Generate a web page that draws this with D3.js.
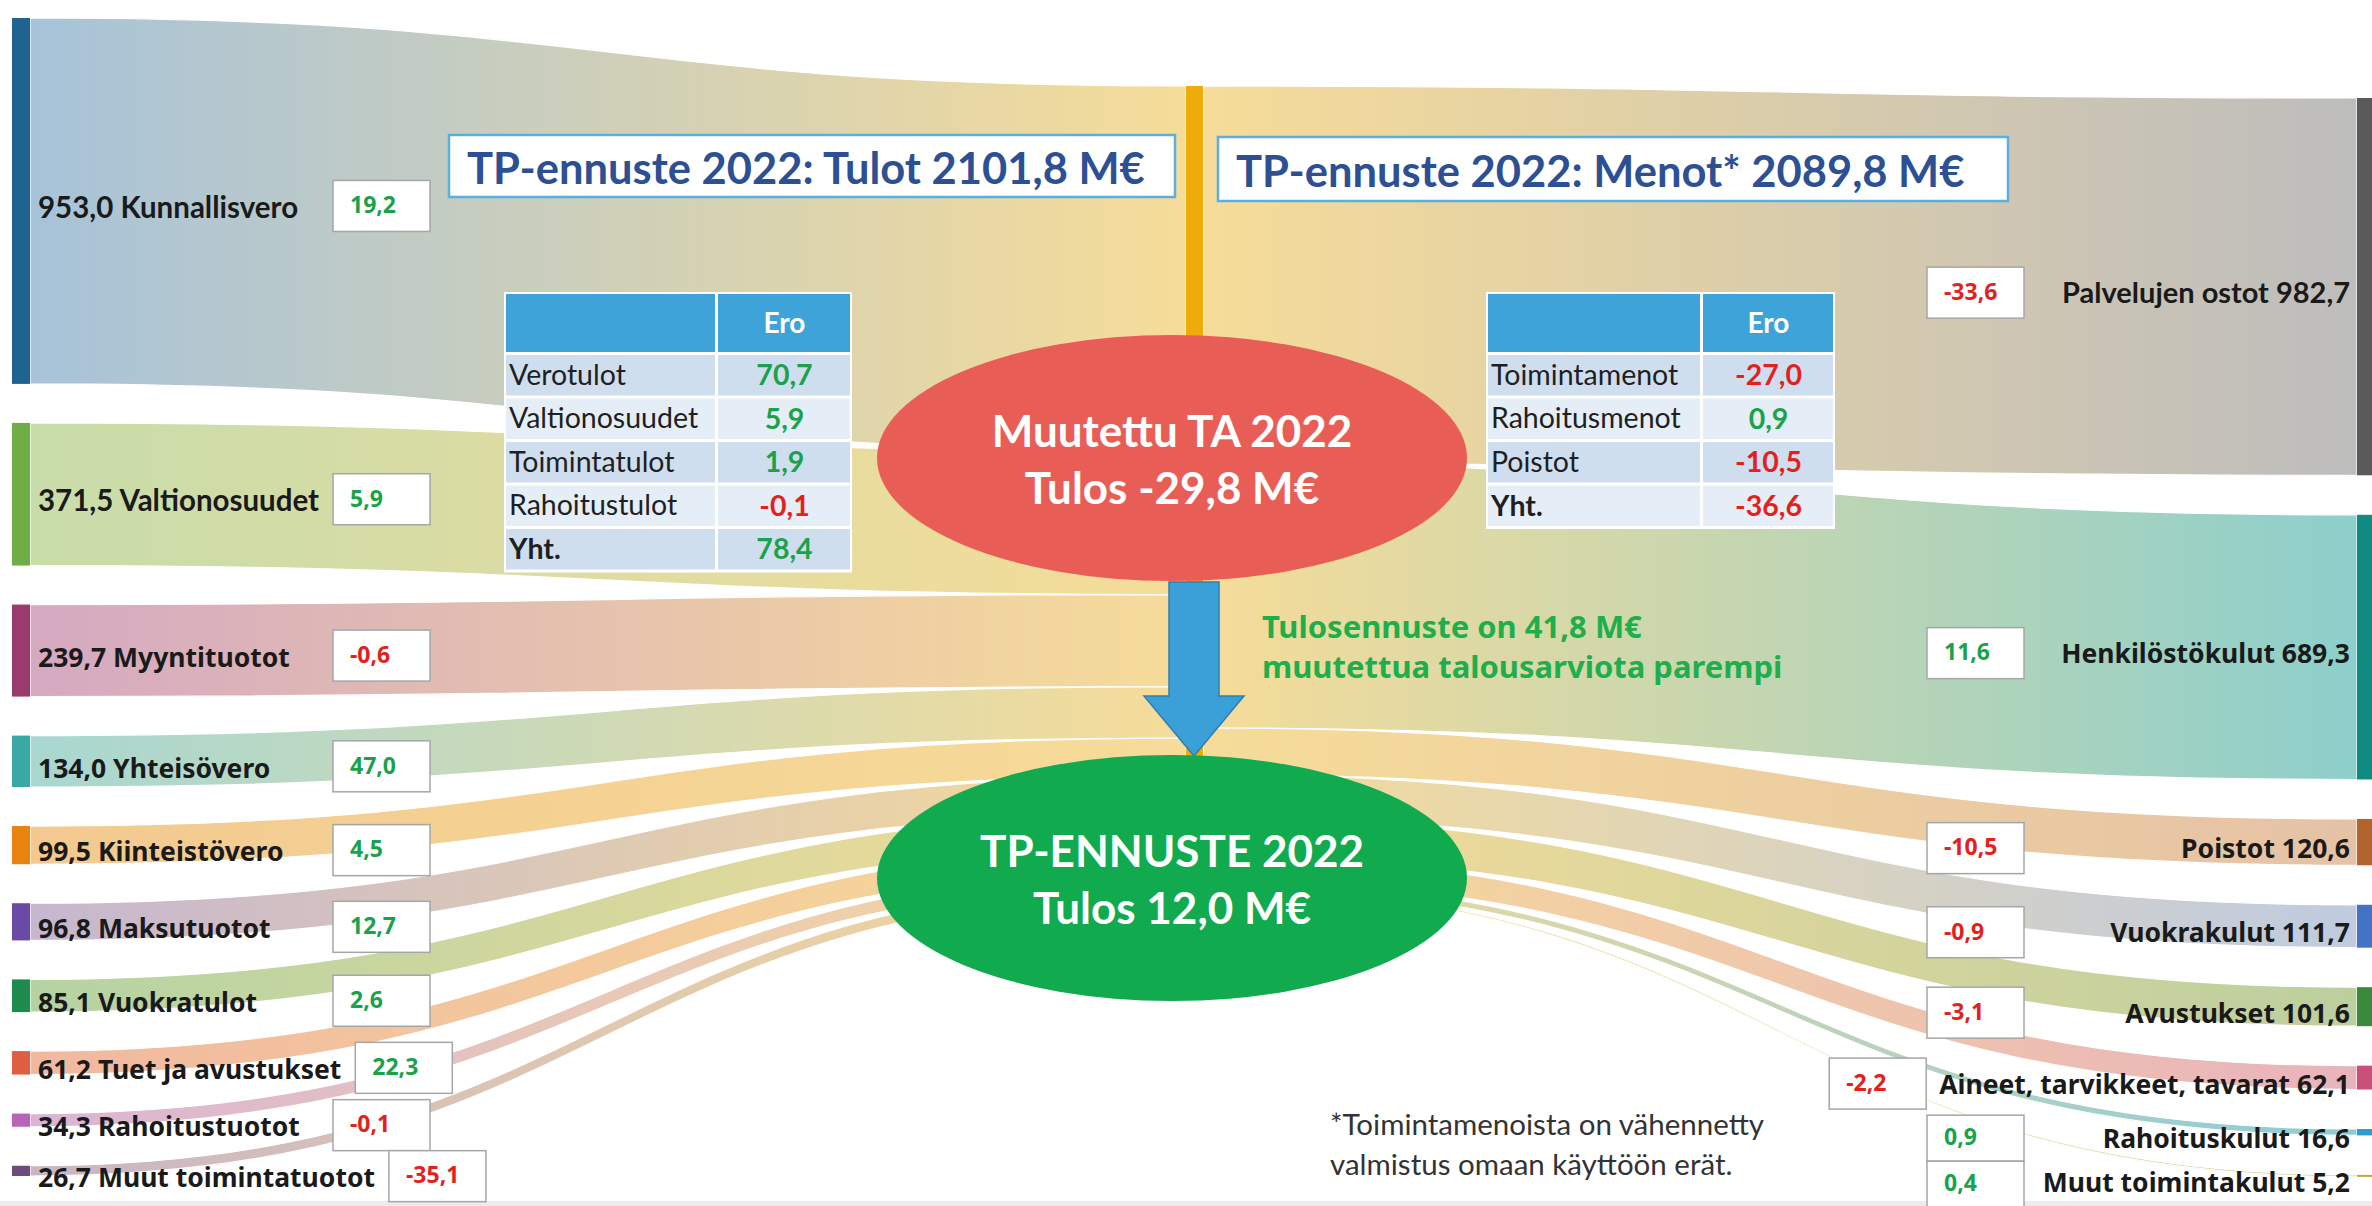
<!DOCTYPE html>
<html>
<head>
<meta charset="utf-8">
<script src="https://cdn.jsdelivr.net/npm/d3@7"></script>
<style>
  body { margin: 0; background: #fff; }
  svg { display: block; }
</style>
</head>
<body>
<svg id="chart"></svg>
<script>
// --- data ---
const incomeNames = ['Kunnallisvero', 'Valtionosuudet', 'Myyntituotot', 'Yhteisövero', 'Kiinteistövero',
  'Maksutuotot', 'Vuokratulot', 'Tuet ja avustukset', 'Rahoitustuotot', 'Muut toimintatuotot'];
const incomeValues = [953.0, 371.5, 239.7, 134.0, 99.5, 96.8, 85.1, 61.2, 34.3, 26.7];
const incomeDiffs = [19.2, 5.9, -0.6, 47.0, 4.5, 12.7, 2.6, 22.3, -0.1, -35.1];

const expenseNames = ['Palvelujen ostot', 'Henkilöstökulut', 'Poistot', 'Vuokrakulut', 'Avustukset',
  'Aineet, tarvikkeet, tavarat', 'Rahoituskulut', 'Muut toimintakulut'];
const expenseValues = [982.7, 689.3, 120.6, 111.7, 101.6, 62.1, 16.6, 5.2];
const expenseDiffs = [-33.6, 11.6, -10.5, -0.9, -3.1, -2.2, 0.9, 0.4];

const incomeTableRows = ['Verotulot', 'Valtionosuudet', 'Toimintatulot', 'Rahoitustulot', 'Yht.'];
const incomeTableDiffs = [70.7, 5.9, 1.9, -0.1, 78.4];
const expenseTableRows = ['Toimintamenot', 'Rahoitusmenot', 'Poistot', 'Yht.'];
const expenseTableDiffs = [-27.0, 0.9, -10.5, -36.6];

const budgetResult = -29.8;

// --- colours ---
const incomeColors = ['#1f6391', '#70ad47', '#9b3a6c', '#3aa9a6', '#e8830f', '#6a4aa5', '#1d8b4e', '#e05f42', '#b864b8', '#6d4c7c'];
const incomeLight = ['#a7c3d9', '#c8dcaa', '#d5a9c1', '#a8d7d1', '#f3c98f', '#c6b7cf', '#b4d3a2', '#f1b8a0', '#dab4d5', '#c9b5c5'];
const expenseColors = ['#5a5a5a', '#0e8c82', '#b3642e', '#4472c4', '#3b8a3b', '#c8507a', '#2e9bd1', '#b8aa44'];
const expenseLight = ['#bdbdbd', '#8dcfcb', '#e5c2a6', '#c0cbe0', '#bccf9f', '#e9b3bc', '#8dcbd8', '#d9d39a'];
const midLight = '#f6dc99';
const green = '#19a24a', red = '#e3211c';

const narrowFont = 'Lato, sans-serif';
const wideFont = '"Noto Sans", "Open Sans", sans-serif';

const width = 2372, height = 1206;
const loc = d3.formatLocale({ decimal: ',', thousands: ' ', grouping: [3], currency: ['', ''], minus: '-' });
const fmt = loc.format('.1f');

const totalIncome = d3.sum(incomeValues);
const totalExpense = d3.sum(expenseValues);
const forecastResult = totalIncome - totalExpense;
const improvement = forecastResult - budgetResult;

const svg = d3.select('#chart').attr('width', width).attr('height', height);
const defs = svg.append('defs');

// value -> pixel thickness
const thick = d3.scaleLinear().domain([0, totalIncome]).range([0, 807]);

const leftX0 = 12, leftX1 = 30, leftTop = 18, leftPad = 39;
const midX0 = 1186, midX1 = 1203, midTop = 86;
const rightX0 = 2357, rightX1 = 2372, rightTop = 98, rightPad = 39.5;

function stack(values, top, pad) {
  const before = [0, ...d3.cumsum(values)];
  return values.map((v, i) => ({ y0: top + thick(before[i]) + i * pad, y1: top + thick(before[i + 1]) + i * pad }));
}
const leftNodes = stack(incomeValues, leftTop, leftPad);
const midIn = stack(incomeValues, midTop, 0);
const rightNodes = stack(expenseValues, rightTop, rightPad);
const midOut = stack(expenseValues, midTop, 0);

function ribbon(x0, a0, b0, x1, a1, b1) {
  const xm = (x0 + x1) / 2;
  const p = d3.path();
  p.moveTo(x0, a0);
  p.bezierCurveTo(xm, a0, xm, a1, x1, a1);
  p.lineTo(x1, b1);
  p.bezierCurveTo(xm, b1, xm, b0, x0, b0);
  p.closePath();
  return p.toString();
}

function gradient(id, x1, x2, c1, c2) {
  const g = defs.append('linearGradient').attr('id', id)
    .attr('gradientUnits', 'userSpaceOnUse')
    .attr('x1', x1).attr('x2', x2).attr('y1', 0).attr('y2', 0);
  g.append('stop').attr('offset', '0%').attr('stop-color', c1);
  g.append('stop').attr('offset', '100%').attr('stop-color', c2);
}

// bottom rule of the slide
svg.append('rect').attr('x', 0).attr('y', 1201).attr('width', width).attr('height', 5).attr('fill', '#ececec');

// --- flows ---
const flows = svg.append('g').attr('class', 'flows');
incomeValues.forEach((v, i) => {
  gradient('gin' + i, leftX1, midX0, incomeLight[i], midLight);
  flows.append('path')
    .attr('d', ribbon(leftX1, leftNodes[i].y0, leftNodes[i].y1, midX0, midIn[i].y0, midIn[i].y1))
    .attr('fill', `url(#gin${i})`)
    .attr('stroke', '#fff').attr('stroke-width', 1.2);
});
expenseValues.forEach((v, i) => {
  gradient('gout' + i, midX1, rightX0, midLight, expenseLight[i]);
  flows.append('path')
    .attr('d', ribbon(midX1, midOut[i].y0, midOut[i].y1, rightX0, rightNodes[i].y0, rightNodes[i].y1))
    .attr('fill', `url(#gout${i})`)
    .attr('stroke', '#fff').attr('stroke-width', 1.2);
});

// --- nodes ---
svg.append('g').selectAll('rect').data(leftNodes).join('rect')
  .attr('x', leftX0).attr('width', leftX1 - leftX0)
  .attr('y', d => d.y0).attr('height', d => Math.max(2, d.y1 - d.y0))
  .attr('fill', (d, i) => incomeColors[i]);
svg.append('g').selectAll('rect').data(rightNodes).join('rect')
  .attr('x', rightX0).attr('width', rightX1 - rightX0)
  .attr('y', d => d.y0).attr('height', d => Math.max(2, d.y1 - d.y0))
  .attr('fill', (d, i) => expenseColors[i]);
svg.append('rect')
  .attr('x', midX0).attr('width', midX1 - midX0)
  .attr('y', midTop).attr('height', thick(totalIncome))
  .attr('fill', '#f0ab0b');

// --- labels & diff boxes ---
const boxW = 97, boxH = 51;
function diffColor(v) { return v < 0 ? red : green; }

const leftLabels = svg.append('g');
let prevBottom = 0;
incomeValues.forEach((v, i) => {
  const cy = (leftNodes[i].y0 + leftNodes[i].y1) / 2;
  const wide = i >= 2;
  const t = leftLabels.append('text')
    .attr('x', 38).attr('y', cy + 9)
    .attr('dominant-baseline', 'middle')
    .style('font-family', wide ? wideFont : narrowFont)
    .style('font-size', wide ? '26.5px' : '29.5px')
    .style('font-weight', 700).style('fill', '#1a1a1a')
    .text(`${fmt(v)} ${incomeNames[i]}`);
  const end = 38 + t.node().getComputedTextLength();
  const bx = Math.max(333, end + 14);
  const by = Math.max(cy + 5 - boxH / 2, prevBottom);
  prevBottom = by + boxH;
  leftLabels.append('rect').attr('x', bx).attr('y', by).attr('width', boxW).attr('height', boxH)
    .attr('fill', '#fff').attr('stroke', '#a6a6a6').attr('stroke-width', 1.5);
  leftLabels.append('text')
    .attr('x', bx + 17).attr('y', by + boxH / 2 + 1)
    .attr('dominant-baseline', 'middle')
    .style('font-family', wideFont).style('font-size', '23px').style('font-weight', 700)
    .style('fill', diffColor(incomeDiffs[i]))
    .text(fmt(incomeDiffs[i]));
});

const rightLabels = svg.append('g');
prevBottom = 0;
expenseValues.forEach((v, i) => {
  const cy = (rightNodes[i].y0 + rightNodes[i].y1) / 2;
  const wide = i >= 1;
  const t = rightLabels.append('text')
    .attr('x', 2350).attr('y', cy + 9)
    .attr('text-anchor', 'end').attr('dominant-baseline', 'middle')
    .style('font-family', wide ? wideFont : narrowFont)
    .style('font-size', wide ? '26.5px' : '29px')
    .style('font-weight', 700).style('fill', '#1a1a1a')
    .text(`${expenseNames[i]} ${fmt(v)}`);
  const start = 2350 - t.node().getComputedTextLength();
  const bx = Math.min(1927, start - 13 - boxW);
  const h = i >= 6 ? 46 : boxH;
  const by = Math.max(cy + 6 - h / 2, prevBottom);
  prevBottom = by + h;
  rightLabels.append('rect').attr('x', bx).attr('y', by).attr('width', boxW).attr('height', h)
    .attr('fill', '#fff').attr('stroke', '#a6a6a6').attr('stroke-width', 1.5);
  rightLabels.append('text')
    .attr('x', bx + 17).attr('y', by + h / 2 + 1)
    .attr('dominant-baseline', 'middle')
    .style('font-family', wideFont).style('font-size', '23px').style('font-weight', 700)
    .style('fill', diffColor(expenseDiffs[i]))
    .text(fmt(expenseDiffs[i]));
});

// --- title boxes ---
function titleBox(x, y, w, h, text) {
  svg.append('rect').attr('x', x).attr('y', y).attr('width', w).attr('height', h)
    .attr('fill', '#fff').attr('stroke', '#5aaee0').attr('stroke-width', 2.5);
  svg.append('text').attr('x', x + 18).attr('y', y + h / 2 + 7)
    .attr('dominant-baseline', 'middle')
    .style('font-family', narrowFont).style('font-size', '43.5px').style('font-weight', 700)
    .style('fill', '#2c5093')
    .text(text);
}
titleBox(449, 135, 726, 62, `TP-ennuste 2022: Tulot ${fmt(totalIncome)} M€`);
titleBox(1218, 137, 790, 64, `TP-ennuste 2022: Menot* ${fmt(totalExpense)} M€`);

// --- tables ---
function table(x, splitX, x2, rows, diffs) {
  const g = svg.append('g');
  const headTop = 292, headH = 60, rowTop = 355, rowH = 43.5;
  g.append('rect').attr('x', x).attr('y', headTop).attr('width', x2 - x).attr('height', rowTop - headTop + rows.length * rowH)
    .attr('fill', '#fff');
  g.append('rect').attr('x', x + 2).attr('y', headTop + 2).attr('width', splitX - x - 4).attr('height', headH - 2).attr('fill', '#3ea3d8');
  g.append('rect').attr('x', splitX + 1).attr('y', headTop + 2).attr('width', x2 - splitX - 3).attr('height', headH - 2).attr('fill', '#3ea3d8');
  g.append('text').attr('x', (splitX + x2) / 2).attr('y', headTop + headH / 2 + 4)
    .attr('text-anchor', 'middle').attr('dominant-baseline', 'middle')
    .style('font-family', narrowFont).style('font-size', '28px').style('font-weight', 700).style('fill', '#fff')
    .text('Ero');
  rows.forEach((r, i) => {
    const y = rowTop + i * rowH;
    const fill = i % 2 === 0 ? '#cfdeef' : '#e5edf7';
    g.append('rect').attr('x', x + 2).attr('y', y).attr('width', splitX - x - 4).attr('height', rowH - 3).attr('fill', fill);
    g.append('rect').attr('x', splitX + 1).attr('y', y).attr('width', x2 - splitX - 3).attr('height', rowH - 3).attr('fill', fill);
    g.append('text').attr('x', x + 5).attr('y', y + rowH / 2 + 1)
      .attr('dominant-baseline', 'middle')
      .style('font-family', narrowFont).style('font-size', '28.5px')
      .style('font-weight', i === rows.length - 1 ? 700 : 400).style('fill', '#1f1f1f')
      .text(r);
    g.append('text').attr('x', (splitX + x2) / 2).attr('y', y + rowH / 2 + 1)
      .attr('text-anchor', 'middle').attr('dominant-baseline', 'middle')
      .style('font-family', narrowFont).style('font-size', '28.5px').style('font-weight', 700)
      .style('fill', diffColor(diffs[i]))
      .text(fmt(diffs[i]));
  });
}
table(504, 717, 852, incomeTableRows, incomeTableDiffs);
table(1486, 1702, 1835, expenseTableRows, expenseTableDiffs);

// --- arrow ---
const cx = 1194;
svg.append('path')
  .attr('d', d3.line()([[cx - 25, 582], [cx + 25, 582], [cx + 25, 696], [cx + 50, 696], [cx, 756],
    [cx - 50, 696], [cx - 25, 696]]) + 'Z')
  .attr('fill', '#3b9fd8').attr('stroke', '#2f7fb0').attr('stroke-width', 1.5);

// --- ellipses ---
function ellipse(cy, fill, lines) {
  svg.append('ellipse').attr('cx', 1172).attr('cy', cy).attr('rx', 295).attr('ry', 123).attr('fill', fill);
  lines.forEach((l, i) => {
    svg.append('text').attr('x', 1172).attr('y', cy - 22 + i * 57)
      .attr('text-anchor', 'middle').attr('dominant-baseline', 'middle')
      .style('font-family', narrowFont).style('font-size', '44px').style('font-weight', 700).style('fill', '#fff')
      .text(l);
  });
}
ellipse(458, '#e85e56', ['Muutettu TA 2022', `Tulos ${fmt(budgetResult)} M€`]);
ellipse(878, '#12aa4e', ['TP-ENNUSTE 2022', `Tulos ${fmt(forecastResult)} M€`]);

// --- notes ---
svg.append('text').attr('x', 1262).attr('y', 630).attr('dominant-baseline', 'middle')
  .style('font-family', wideFont).style('font-size', '31px').style('font-weight', 700).style('fill', '#1fae4c')
  .text(`Tulosennuste on ${fmt(improvement)} M€`);
svg.append('text').attr('x', 1262).attr('y', 670).attr('dominant-baseline', 'middle')
  .style('font-family', wideFont).style('font-size', '31px').style('font-weight', 700).style('fill', '#1fae4c')
  .text('muutettua talousarviota parempi');

svg.append('text').attr('x', 1330).attr('y', 1128).attr('dominant-baseline', 'middle')
  .style('font-family', narrowFont).style('font-size', '29.5px').style('fill', '#333')
  .text('*Toimintamenoista on vähennetty');
svg.append('text').attr('x', 1330).attr('y', 1168).attr('dominant-baseline', 'middle')
  .style('font-family', narrowFont).style('font-size', '29.5px').style('fill', '#333')
  .text('valmistus omaan käyttöön erät.');
</script>
</body>
</html>
